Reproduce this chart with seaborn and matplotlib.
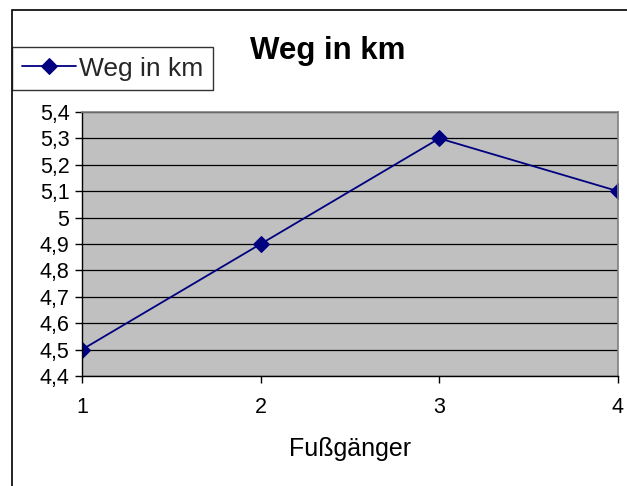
import matplotlib
matplotlib.use("Agg")
import matplotlib.pyplot as plt
from matplotlib.patches import Rectangle
from matplotlib.ticker import FuncFormatter
import seaborn as sns
import pandas as pd

fussgaenger = [1, 2, 3, 4]
weg_km = [4.5, 4.9, 5.3, 5.1]
y_ticks = [4.4, 4.5, 4.6, 4.7, 4.8, 4.9, 5.0, 5.1, 5.2, 5.3, 5.4]

df = pd.DataFrame({"Fußgänger": fussgaenger, "Weg in km": weg_km})

sns.set_theme(style="white")
plt.rcParams["font.family"] = ["Liberation Sans", "DejaVu Sans"]

fig = plt.figure(figsize=(6.27, 4.86), dpi=100)
ax = fig.add_axes([82 / 627, 1 - 376 / 486, (618 - 82) / 627, (376 - 112) / 486])
ax.set_facecolor("#C0C0C0")

sns.lineplot(data=df, x="Fußgänger", y="Weg in km", ax=ax, color="#000080",
             marker="D", markersize=8, linewidth=1.3, markeredgecolor="#000080",
             label="Weg in km", legend=False)

ax.set_xlim(1, 4)
ax.set_ylim(4.4, 5.4)
ax.set_xticks(fussgaenger)
ax.set_yticks(y_ticks)
ax.yaxis.set_major_formatter(FuncFormatter(lambda v, p: (f"{v:.1f}".rstrip("0").rstrip(".")).replace(".", ",")))
ax.grid(axis="y", color="#000000", linewidth=0.9)
ax.grid(axis="x", visible=False)
ax.set_axisbelow(True)

for s in ["top", "right"]:
    ax.spines[s].set_color("#808080")
    ax.spines[s].set_linewidth(1.2)
for s in ["left", "bottom"]:
    ax.spines[s].set_color("#000000")
    ax.spines[s].set_linewidth(1.0)

ax.tick_params(axis="both", which="major", direction="out", length=5, width=1,
               color="#000000", labelsize=15.5, labelcolor="#000000",
               bottom=True, left=True)
ax.tick_params(axis="x", pad=10)
ax.tick_params(axis="y", pad=4)

ax.set_xlabel("Fußgänger", fontsize=18, color="#000000", labelpad=14)
ax.set_ylabel("")

fig.text(0.522, 0.896, "Weg in km", fontsize=22.5, fontweight="bold",
         ha="center", va="center", color="#000000")

handles, labels = ax.get_legend_handles_labels()
leg = fig.legend(handles, labels, loc="upper left",
                 bbox_to_anchor=(12 / 627, 1 - 47 / 486), fontsize=19,
                 frameon=True, fancybox=False, edgecolor="#000000",
                 borderpad=0.36, handlelength=2.05, handletextpad=0.12,
                 borderaxespad=0)
leg.get_frame().set_linewidth(1.0)

fig.patches.append(Rectangle((12 / 627, -0.1), 1.2, 1.1 - 10 / 486,
                             transform=fig.transFigure, fill=False,
                             edgecolor="#000000", linewidth=1.2, zorder=0))

fig.savefig("out.png", dpi=100, facecolor="white")
